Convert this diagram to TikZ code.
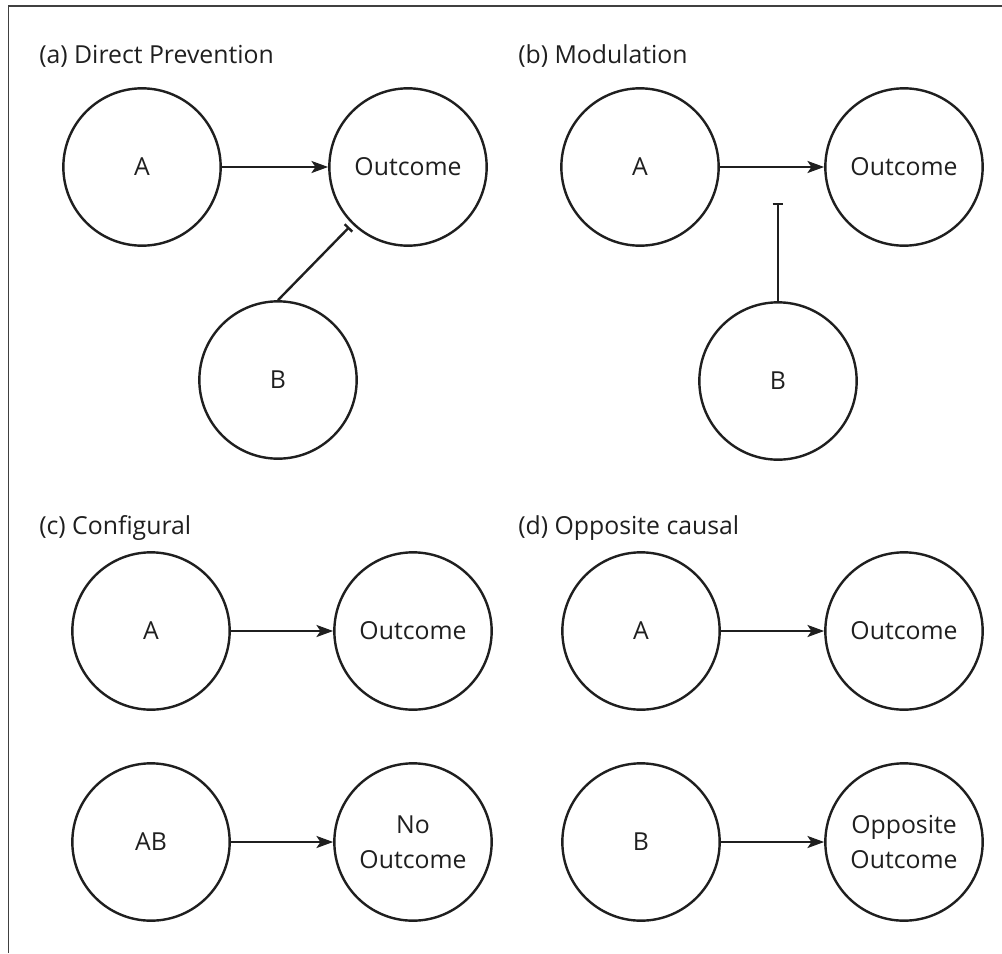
\documentclass[tikz,border=0pt]{standalone}
\usepackage{fontspec}
\setmainfont{Open Sans}
\usetikzlibrary{arrows.meta}
\begin{document}
\begin{tikzpicture}[x=0.75pt,y=-0.75pt,
  every node/.style={font=\fontsize{18.6}{26}\selectfont, text=black!88},
  circ/.style={circle, draw=black!88, line width=1.8pt, minimum size=118pt, inner sep=0pt, align=center},
  ttl/.style={anchor=base west, inner sep=0pt},
  arr/.style={draw=black!88, line width=1.8pt, -{Stealth[length=12.5pt,width=9pt,inset=3pt]}},
  inh/.style={draw=black!88, line width=1.8pt, -{Bar[width=8pt,line width=1.8pt]}},
  frame/.style={draw=black!75, line width=0.9pt}]
\useasboundingbox (0,0) rectangle (1002,953);
\draw[frame] (8.5,953) -- (8.5,6) -- (1002,6);
% (a)
\node[ttl] (ta) at (39,63) {(a) Direct Prevention};
\node[circ] (Aa) at (142,167) {A};
\node[circ] (Oa) at (408,167) {Outcome};
\node[circ] (Ba) at (278,380) {B};
\draw[arr] (Aa) -- (Oa);
\draw[inh, shorten >=63pt] (Ba.north) -- (Oa.center);
% (b)
\node[ttl] (tb) at (518,63) {(b) Modulation};
\node[circ] (Ab) at (640,167) {A};
\node[circ] (Ob) at (904,167) {Outcome};
\node[circ] (Bb) at (778,381) {B};
\coordinate (tbend) at (778,203);
\draw[arr] (Ab) -- (Ob);
\draw[inh] (Bb.north) -- (tbend);
% (c)
\node[ttl] (tc) at (39,534) {(c) Configural};
\node[circ] (Ac) at (151,631) {A};
\node[circ] (Oc) at (413,631) {Outcome};
\node[circ] (ABc) at (151,842) {AB};
\node[circ] (NOc) at (413,842) {No\\Outcome};
\draw[arr] (Ac) -- (Oc);
\draw[arr] (ABc) -- (NOc);
% (d)
\node[ttl] (td) at (518,534) {(d) Opposite causal};
\node[circ] (Ad) at (641,631) {A};
\node[circ] (Od) at (904,631) {Outcome};
\node[circ] (Bd) at (641,842) {B};
\node[circ] (OOd) at (904,842) {Opposite\\Outcome};
\draw[arr] (Ad) -- (Od);
\draw[arr] (Bd) -- (OOd);
\end{tikzpicture}
\end{document}
